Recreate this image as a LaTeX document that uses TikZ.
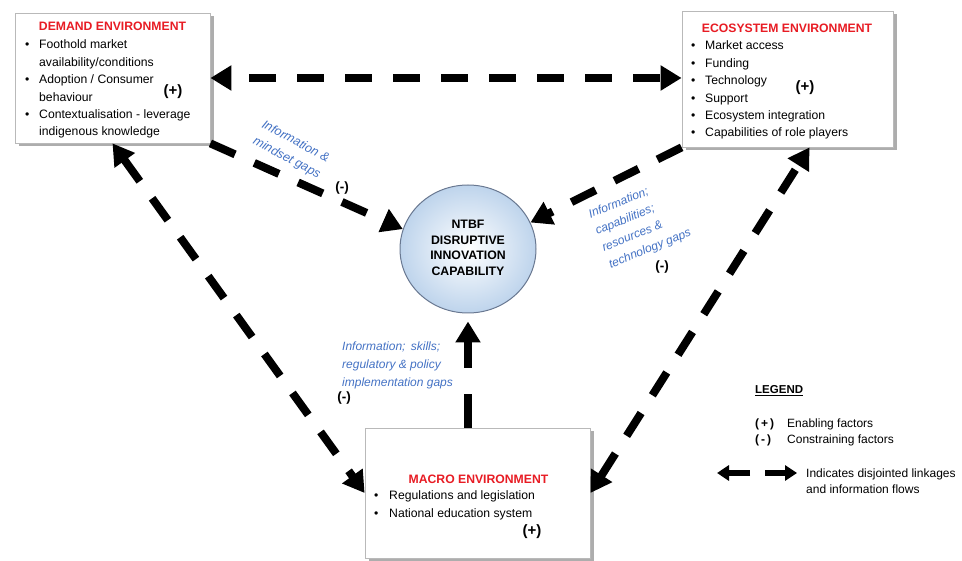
\documentclass[tikz,border=0pt]{standalone}
\usepackage{fontspec}
\setmainfont{Liberation Sans}
\usetikzlibrary{arrows.meta,shapes.geometric,shadows,calc}
\definecolor{titlered}{RGB}{232,28,36}
\definecolor{gapblue}{RGB}{68,114,196}
\definecolor{circfill}{RGB}{190,212,236}
\definecolor{circline}{RGB}{105,120,145}
\definecolor{boxline}{RGB}{185,185,185}
\begin{document}
\begin{tikzpicture}[x=1pt,y=1pt,
  envbox/.style={draw=boxline, line width=0.8pt, fill=white, inner sep=0pt,
    drop shadow={shadow xshift=3.5pt, shadow yshift=-3.5pt, fill=black!40, opacity=0.8}},
  envtitle/.style={inner sep=0pt, anchor=base, text=titlered, font=\fontsize{12.2}{14}\selectfont\bfseries},
  envlist/.style={inner sep=0pt, anchor=base west, font=\fontsize{12.2}{17.4}\selectfont},
  plus/.style={inner sep=0pt, font=\fontsize{15}{17}\selectfont\bfseries},
  minus/.style={inner sep=0pt, font=\fontsize{13.5}{16}\selectfont\bfseries},
  gaplabel/.style={inner sep=0pt, text=gapblue, font=\fontsize{12.5}{18.5}\selectfont\itshape},
  legtext/.style={inner sep=0pt, anchor=base west, font=\fontsize{12}{17}\selectfont},
  flow/.style={line width=8pt, dash pattern=on 27pt off 21pt, black,
    >={Triangle[length=21pt,width=24pt]}},
  legarrow/.style={line width=6pt, black, ->, >={Triangle[length=12pt,width=15pt]}}
]
\useasboundingbox (0,0) rectangle (962,-561);

% boxes
\node[envbox, minimum width=195pt, minimum height=130pt] (demand) at (112.5,-78) {};
\node[envbox, minimum width=211pt, minimum height=136pt] (eco) at (787.5,-79) {};
\node[envbox, minimum width=225pt, minimum height=130pt] (macro) at (477.5,-493) {};

% circle
\node[ellipse, minimum width=136pt, minimum height=128pt, draw=circline, line width=1pt,
  inner color=white, outer color=circfill] (circ) at (468,-249) {};
\node[inner sep=0pt, align=center, font=\fontsize{12.3}{15.6}\selectfont\bfseries] (circtext) at (468,-248)
  {NTBF\\DISRUPTIVE\\INNOVATION\\CAPABILITY};

% demand text
\node[envtitle] (dtitle) at (112.5,-31) {DEMAND ENVIRONMENT};
\node[envlist] (dlist) at (25,-49) {\begin{tabular}[t]{@{}p{14pt}@{}l@{}}
\textbullet & Foothold market\\
 & availability/conditions\\
\textbullet & Adoption / Consumer\\
 & behaviour\\
\textbullet & Contextualisation - leverage\\
 & indigenous knowledge
\end{tabular}};
\node[plus] (dplus) at (173,-92) {(+)};

% ecosystem text
\node[envtitle] (etitle) at (787,-33) {ECOSYSTEM ENVIRONMENT};
\node[envlist] (elist) at (691,-50) {\begin{tabular}[t]{@{}p{14pt}@{}l@{}}
\textbullet & Market access\\
\textbullet & Funding\\
\textbullet & Technology\\
\textbullet & Support\\
\textbullet & Ecosystem integration\\
\textbullet & Capabilities of role players
\end{tabular}};
\node[plus] (eplus) at (805,-88) {(+)};

% macro text
\node[envtitle] (mtitle) at (478.5,-483) {MACRO ENVIRONMENT};
\node[envlist] (mlist) at (374,-500) {\begin{tabular}[t]{@{}p{15pt}@{}l@{}}
\textbullet & Regulations and legislation\\
\textbullet & National education system
\end{tabular}};
\node[plus] (mplus) at (532,-532) {(+)};

% connectors
\draw[flow,<->, dash phase=29pt] (demand.east) -- (demand.east -| eco.west);
\draw[flow,->] (demand.south east) -- (circ.163);
\draw[flow,->] (eco.south west) -- (circ.23);
\draw[flow,<->] (demand.south) -- (macro.west);
\draw[flow,<->] (macro.east) -- ([xshift=22pt]eco.south);
\draw[flow,->, dash pattern=on 34pt off 26pt, shorten >=8pt] (macro.north -| circ.south) -- (circ.south);

% gap labels
\node[gaplabel, rotate=-28, align=center] (dgap) at (291,-150) {Information \&\\mindset gaps};
\node[minus] (dminus) at (342,-188) {(-)};
\node[gaplabel, rotate=22, align=left, font=\fontsize{12}{18}\selectfont\itshape] (egap) at (640,-224)
  {Information;\\capabilities;\\resources \&\\technology gaps};
\node[minus] (eminus) at (662,-267) {(-)};
\node[gaplabel, anchor=base west, font=\fontsize{12}{18}\selectfont\itshape] (mgap) at (342,-350.5)
  {\begin{tabular}[t]{@{}l@{}}Information;\ \,skills;\\regulatory \& policy\\implementation gaps\end{tabular}};
\node[minus] (mminus) at (344,-398) {(-)};

% legend
\node[legtext, font=\fontsize{11.5}{14}\selectfont\bfseries] (leg) at (755,-394) {\underline{LEGEND}};
\node[legtext, font=\fontsize{12}{14}\selectfont\bfseries] (lplus) at (755,-428) {(\,+\,)};
\node[legtext] (lplust) at (787,-428) {Enabling factors};
\node[legtext, font=\fontsize{12}{14}\selectfont\bfseries] (lminus) at (755,-444) {(\,-\,)};
\node[legtext] (lminust) at (787,-444) {Constraining factors};
\coordinate (la1) at (750,-473);
\coordinate (la2) at (717,-473);
\coordinate (lb1) at (765,-473);
\coordinate (lb2) at (797,-473);
\draw[legarrow] (la1) -- (la2);
\draw[legarrow] (lb1) -- (lb2);
\node[legtext] (lflow) at (806,-477) {\begin{tabular}[t]{@{}l@{}}Indicates disjointed linkages\\and information flows\end{tabular}};
\end{tikzpicture}
\end{document}
